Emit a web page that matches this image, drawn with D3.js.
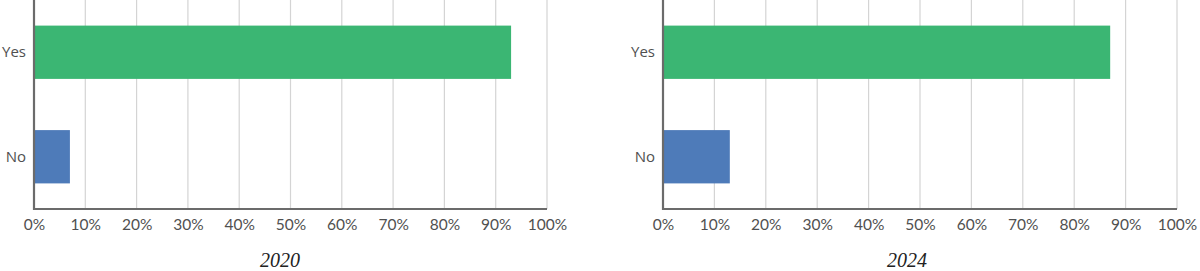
<!DOCTYPE html>
<html><head><meta charset="utf-8">
<script src="https://cdn.jsdelivr.net/npm/d3@7"></script>
<style>body{margin:0;background:#fff}svg{display:block}</style>
</head><body>
<svg id="c" width="1200" height="271"></svg>
<script>
const categories = ["Yes", "No"];
const values2020 = [93, 7];
const values2024 = [87, 13];
const years = ["2020", "2024"];
const ticks = [0,10,20,30,40,50,60,70,80,90,100];
const colors = {"Yes":"#3bb673", "No":"#4e7bb9"};

(function(){
const svg = d3.select("#c");
const panels = [
  {x0:34, x1:547, title:years[0], vals:values2020, tx:280},
  {x0:663, x1:1177, title:years[1], vals:values2024, tx:907}
];
const plotTop = 0, plotBottom = 209;
panels.forEach(p => {
  const g = svg.append("g");
  const x = d3.scaleLinear().domain([0,100]).range([p.x0, p.x1]);
  const y = d3.scaleBand().domain(categories).range([plotTop, plotBottom]).paddingInner(0.49).paddingOuter(0.245);
  g.selectAll("line.grid").data(ticks.slice(1)).enter().append("line")
    .attr("class","grid")
    .attr("x1", d=>x(d)).attr("x2", d=>x(d)).attr("y1", plotTop).attr("y2", plotBottom)
    .attr("stroke", "#d4d4d4").attr("stroke-width", 1.2);
  g.selectAll("rect").data(categories).enter().append("rect")
    .attr("x", x(0)).attr("y", d=>y(d)).attr("height", y.bandwidth())
    .attr("width", (d,i)=>x(p.vals[i]) - x(0))
    .attr("fill", d=>colors[d]);
  g.append("line").attr("x1", x(0)).attr("x2", x(0)).attr("y1", plotTop).attr("y2", plotBottom+1)
    .attr("stroke", "#6b6b6b").attr("stroke-width", 2.2);
  g.append("line").attr("x1", x(0)-1).attr("x2", x(100)).attr("y1", plotBottom).attr("y2", plotBottom)
    .attr("stroke", "#6b6b6b").attr("stroke-width", 2.2);
  const xa = d3.axisBottom(x).tickValues(ticks).tickFormat(d=>d+"%").tickSize(0).tickPadding(10);
  const ax = g.append("g").attr("transform", `translate(0,${plotBottom})`).call(xa);
  ax.select(".domain").remove();
  ax.selectAll("text").attr("font-family", "Lato, 'Open Sans', sans-serif").attr("font-size", 15.5).attr("fill", "#505050");
  const ya = d3.axisLeft(y).tickSize(0).tickPadding(8);
  const ay = g.append("g").attr("transform", `translate(${x(0)},0)`).call(ya);
  ay.select(".domain").remove();
  ay.selectAll("text").attr("font-family", "'Open Sans', Lato, sans-serif").attr("font-size", 15).attr("fill", "#505050");
  g.append("text").attr("x", p.tx).attr("y", 267).attr("text-anchor", "middle")
    .attr("font-family", "'Liberation Serif', 'DejaVu Serif', serif").attr("font-style", "italic")
    .attr("font-size", 20).attr("fill", "#222").text(p.title);
});
})();
</script>
</body></html>
